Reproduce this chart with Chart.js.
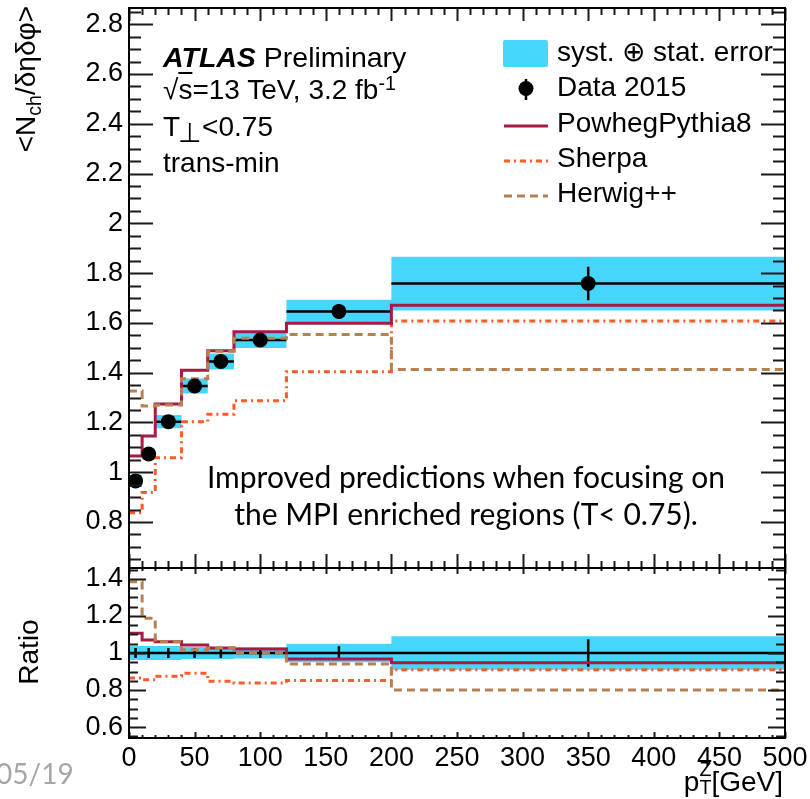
<!DOCTYPE html>
<html>
<head>
<meta charset="utf-8">
<script src="https://cdn.jsdelivr.net/npm/chart.js@4"></script>
<style>
  html, body { margin: 0; padding: 0; background: #fff; }
  #wrap { position: relative; width: 810px; height: 799px; overflow: hidden; }
  canvas { position: absolute; left: 0; top: 0; }
  .t { position: absolute; white-space: nowrap; font-family: 'Liberation Sans', Arial, sans-serif; font-size: 28px; line-height: 28px; color: #000; }
  .rot { transform-origin: 0 0; transform: rotate(-90deg); }
  .sub { font-size: 70%; position: relative; top: 0.3em; }
  .sup { font-size: 70%; position: relative; top: -0.45em; }
  .cal { font-family: Lato, 'Open Sans', sans-serif; }
  #legsym { position: absolute; left: 0; top: 0; }
</style>
</head>
<body>
<div id="wrap">
  <canvas id="mainChart" width="810" height="799"></canvas>
  <canvas id="ratioChart" width="810" height="799"></canvas>

  <svg id="legsym" width="810" height="799">
    <rect x="503" y="40" width="45" height="27" rx="2" fill="#46d6fa"/>
    <line x1="526" y1="79" x2="526" y2="100" stroke="#000" stroke-width="2.5"/>
    <circle cx="526" cy="88.5" r="7.5" fill="#000"/>
    <line x1="504" y1="126" x2="548" y2="126" stroke="#a61a43" stroke-width="3"/>
    <line x1="504" y1="161" x2="548" y2="161" stroke="#ff5a2a" stroke-width="3" stroke-dasharray="6 4 2 4"/>
    <line x1="504" y1="196" x2="548" y2="196" stroke="#b5814f" stroke-width="3" stroke-dasharray="8 5"/>
  </svg>

  <div class="t" style="left:557px;top:38px">syst. ⊕ stat. error</div>
  <div class="t" style="left:557px;top:73px">Data 2015</div>
  <div class="t" style="left:557px;top:109px">PowhegPythia8</div>
  <div class="t" style="left:557px;top:144px">Sherpa</div>
  <div class="t" style="left:557px;top:179px">Herwig++</div>

  <div class="t" style="left:163px;top:43px;font-size:28.5px"><b><i>ATLAS</i></b> Preliminary</div>
  <div class="t" style="left:163px;top:76px">√<span style="text-decoration:overline">s</span>=13 TeV, 3.2 fb<span class="sup">-1</span></div>
  <div class="t" style="left:163px;top:113px">T<span style="font-size:95%;position:relative;top:0.22em;margin-left:-2px">⊥</span>&lt;0.75</div>
  <div class="t" style="left:163px;top:149px">trans-min</div>

  <div class="t rot" style="left:12px;top:306px;width:300px;text-align:right">&lt;N<span class="sub">ch</span>/δηδφ&gt;</div>
  <div class="t rot" style="left:15px;top:752px;width:200px;text-align:center">Ratio</div>
  <div class="t" style="left:483px;top:768px;width:300px;text-align:right">p<span style="display:inline-block;vertical-align:top;font-size:70%;line-height:18px;position:relative;top:-8px"><span style="display:block">Z</span><span style="display:block">T</span></span>[GeV]</div>

  <div id="note" class="t cal" style="left:166px;top:458px;width:600px;text-align:center;font-size:30px;line-height:37px">Improved predictions when focusing on<br>the MPI enriched regions (T&lt; 0.75).</div>
  <div class="t cal" style="left:-4px;top:759px;font-size:28px;color:#a6a6a6">05/19</div>
</div>

<script>
// bin edges and centres in pT^Z [GeV]
var edges = [0, 10, 20, 40, 60, 80, 120, 200, 500];
var centers = [5, 15, 30, 50, 70, 100, 160, 350];

// main panel
var dataVal = [0.965, 1.073, 1.203, 1.346, 1.445, 1.531, 1.646, 1.758];
var dataErr = [0.022, 0.022, 0.022, 0.022, 0.022, 0.022, 0.03, 0.067];
var bandErr = [0.025, 0.022, 0.027, 0.030, 0.032, 0.032, 0.047, 0.108];
var pythia = [1.065, 1.145, 1.274, 1.410, 1.488, 1.564, 1.598, 1.671];
var sherpa = [0.837, 0.918, 1.058, 1.203, 1.233, 1.287, 1.404, 1.607];
var herwig = [1.326, 1.266, 1.270, 1.375, 1.486, 1.538, 1.553, 1.413];

// ratio panel
var ratioData = [1, 1, 1, 1, 1, 1, 1, 1];
var ratioErr = [0.027, 0.027, 0.027, 0.027, 0.027, 0.027, 0.036, 0.074];
var ratioBand = [0.038, 0.038, 0.038, 0.032, 0.032, 0.030, 0.050, 0.090];
var ratioPythia = [1.106, 1.070, 1.061, 1.043, 1.027, 1.021, 0.968, 0.948];
var ratioSherpa = [0.865, 0.855, 0.875, 0.891, 0.848, 0.838, 0.852, 0.910];
var ratioHerwig = [1.385, 1.188, 1.061, 1.017, 1.027, 1.000, 0.940, 0.800];

// tick labels
var xTicks = [0, 50, 100, 150, 200, 250, 300, 350, 400, 450, 500];
var yTicksMain = [0.8, 1, 1.2, 1.4, 1.6, 1.8, 2, 2.2, 2.4, 2.6, 2.8];
var yTicksRatio = [0.6, 0.8, 1, 1.2, 1.4];

var CYAN = '#46d6fa', PYTHIA = '#a61a43', SHERPA = '#ff5a2a', HERWIG = '#b5814f';

Chart.defaults.font.family = "'Liberation Sans', Arial, sans-serif";
Chart.defaults.font.size = 27;
Chart.defaults.color = '#000';

// histogram outline: value i is held over [edges[i], edges[i+1]]
function steps(vals, shift) {
  var pts = [];
  for (var i = 0; i < vals.length; i++) pts.push({x: edges[i], y: vals[i] + (shift ? shift[i] : 0)});
  pts.push({x: edges[edges.length - 1], y: vals[vals.length - 1] + (shift ? shift[vals.length - 1] : 0)});
  return pts;
}
function neg(a) { return a.map(function (v) { return -v; }); }
function hbars(vals) {
  var pts = [];
  for (var i = 0; i < vals.length; i++) {
    pts.push({x: edges[i], y: vals[i]}, {x: edges[i + 1], y: vals[i]}, {x: edges[i + 1], y: null});
  }
  return pts;
}
function vbars(vals, errs) {
  var pts = [];
  for (var i = 0; i < vals.length; i++) {
    pts.push({x: centers[i], y: vals[i] - errs[i]}, {x: centers[i], y: vals[i] + errs[i]}, {x: centers[i], y: null});
  }
  return pts;
}
function points(vals) {
  return vals.map(function (v, i) { return {x: centers[i], y: v}; });
}

function datasets(val, err, band, py, sh, hw, markers) {
  var ds = [
    {data: steps(val, band), stepped: 'before', borderWidth: 0, pointRadius: 0, fill: '+1', backgroundColor: CYAN, order: 10},
    {data: steps(val, neg(band)), stepped: 'before', borderWidth: 0, pointRadius: 0, fill: false, order: 11},
    {data: hbars(val), borderColor: '#000', borderWidth: 2.5, pointRadius: 0, spanGaps: false, order: 6},
    {data: vbars(val, err), borderColor: '#000', borderWidth: 2.5, pointRadius: 0, spanGaps: false, order: 6},
    {data: steps(sh), stepped: 'before', borderColor: SHERPA, borderWidth: 3, borderDash: [6, 4, 2, 4], pointRadius: 0, order: 4},
    {data: steps(py), stepped: 'before', borderColor: PYTHIA, borderWidth: 3, pointRadius: 0, order: 3},
    {data: steps(hw), stepped: 'before', borderColor: HERWIG, borderWidth: 3, borderDash: [8, 5], pointRadius: 0, order: 2}
  ];
  if (markers) {
    ds.push({data: points(val), showLine: false, pointRadius: 7.5, pointBackgroundColor: '#000', pointBorderWidth: 0, order: 0});
  }
  return ds;
}

// ROOT style frame with inward ticks on all four sides
function frameTicks(o) {
  return {
    id: 'frameTicks',
    afterDraw: function (chart) {
      var ctx = chart.ctx, a = chart.chartArea, xs = chart.scales.x, ys = chart.scales.y;
      ctx.save();
      ctx.strokeStyle = '#1a1a1a';
      ctx.lineWidth = 2;
      ctx.beginPath();
      for (var v = 0; v <= 500; v += 10) {
        var px = Math.round(xs.getPixelForValue(v)) + 0.5;
        var major = v % 50 === 0;
        var lt = major ? o.xTop[0] : o.xTop[1], lb = major ? o.xBot[0] : o.xBot[1];
        ctx.moveTo(px, a.top); ctx.lineTo(px, a.top + lt);
        ctx.moveTo(px, a.bottom); ctx.lineTo(px, a.bottom - lb);
      }
      for (var k = Math.ceil(ys.min / 0.05); k * 0.05 <= ys.max; k++) {
        var y = Math.round(ys.getPixelForValue(k * 0.05)) + 0.5;
        var l = (k % 4 === 0) ? o.y[0] : o.y[1];
        ctx.moveTo(a.left, y); ctx.lineTo(a.left + l, y);
        ctx.moveTo(a.right, y); ctx.lineTo(a.right - l, y);
      }
      ctx.stroke();
      ctx.strokeStyle = '#000';
      ctx.strokeRect(a.left, a.top, a.right - a.left, a.bottom - a.top);
      ctx.restore();
    }
  };
}

function yAxis(min, max, ticks) {
  return {
    type: 'linear', min: min, max: max,
    grid: {display: false, drawTicks: false},
    border: {display: false},
    ticks: {padding: 6, autoSkip: false, callback: function (v) { return String(v); }},
    afterBuildTicks: function (s) { s.ticks = ticks.map(function (v) { return {value: v}; }); },
    afterFit: function (s) { s.width = 129; s.paddingTop = 0; s.paddingBottom = 0; }
  };
}

var mainChart = new Chart(document.getElementById('mainChart'), {
  type: 'line',
  data: {datasets: datasets(dataVal, dataErr, bandErr, pythia, sherpa, herwig, true)},
  options: {
    responsive: false, animation: false, events: [],
    layout: {autoPadding: false, padding: {left: 0, right: 25, top: 8, bottom: 231}},
    plugins: {legend: {display: false}, tooltip: {enabled: false}},
    scales: {
      x: {type: 'linear', min: 0, max: 500, display: false},
      y: yAxis(0.615, 2.865, yTicksMain)
    }
  },
  plugins: [frameTicks({xTop: [13, 7], xBot: [14, 7], y: [24, 12]})]
});

var ratioChart = new Chart(document.getElementById('ratioChart'), {
  type: 'line',
  data: {datasets: datasets(ratioData, ratioErr, ratioBand, ratioPythia, ratioSherpa, ratioHerwig, false)},
  options: {
    responsive: false, animation: false, events: [],
    layout: {autoPadding: false, padding: {left: 0, right: 25, top: 568, bottom: 0}},
    plugins: {legend: {display: false}, tooltip: {enabled: false}},
    scales: {
      x: {
        type: 'linear', min: 0, max: 500,
        grid: {display: false, drawTicks: false},
        border: {display: false},
        ticks: {padding: 4, autoSkip: false, maxRotation: 0},
        afterBuildTicks: function (s) { s.ticks = xTicks.map(function (v) { return {value: v}; }); },
        afterFit: function (s) { s.height = 61; s.paddingLeft = 0; s.paddingRight = 0; }
      },
      y: yAxis(0.541, 1.459, yTicksRatio)
    }
  },
  plugins: [frameTicks({xTop: [6, 3], xBot: [6, 3], y: [17, 9]})]
});
</script>
</body>
</html>
